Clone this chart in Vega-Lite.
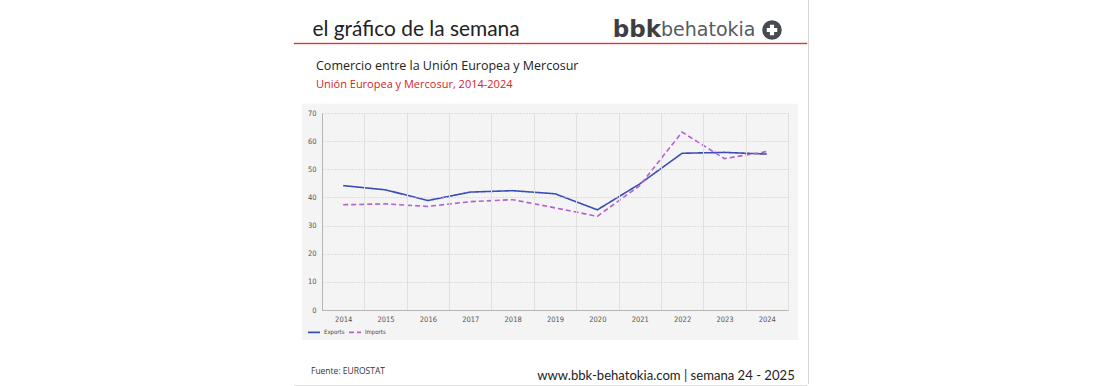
{
  "$schema": "https://vega.github.io/schema/vega-lite/v6.json",
  "background": "white",
  "padding": {"left": 293, "top": 0, "right": 0, "bottom": 0},
  "spacing": 0,
  "config": {"view": {"stroke": null}, "font": "Open Sans"},
  "hconcat": [
    {
      "spacing": 0,
      "vconcat": [
        {"width": 1, "height": 18, "data": {"values": []}, "mark": "point"},
        {
          "spacing": 0,
          "hconcat": [
            {
              "width": 244, "height": 24,
              "data": {"values": [{"texto": "el gráfico de la semana"}]},
              "mark": {"type": "text", "align": "center", "baseline": "middle", "font": "Lato", "fontSize": 20.9, "color": "#222222"},
              "encoding": {"text": {"field": "texto"}}
            },
            {"width": 23, "height": 1, "data": {"values": []}, "mark": "point"},
            {
              "width": 200, "height": 24,
              "data": {"values": [{"marca": "bbk", "resto": " behatokia"}]},
              "layer": [
                {"mark": {"type": "text", "align": "right", "baseline": "middle", "font": "DejaVu Sans", "fontWeight": "bold", "fontSize": 23, "color": "#3c4043"}, "encoding": {"text": {"field": "marca"}}},
                {"mark": {"type": "text", "align": "left", "baseline": "middle", "font": "DejaVu Sans", "fontSize": 19, "color": "#555a5f"}, "encoding": {"text": {"field": "resto"}}}
              ]
            },
            {
              "width": 22, "height": 24,
              "data": {"values": [{"logo": "más"}]},
              "layer": [
                {"mark": {"type": "point", "shape": "circle", "filled": true, "size": 380, "color": "#454b51", "opacity": 1}, "encoding": {}},
                {"mark": {"type": "point", "shape": "cross", "filled": true, "size": 110, "color": "#ffffff", "opacity": 1}, "encoding": {}}
              ]
            }
          ]
        },
        {"width": 513, "height": 1, "data": {"values": []}, "mark": "point", "view": {"fill": "#e3342f", "stroke": "#e3342f", "strokeWidth": 0.4}},
        {"width": 1, "height": 15, "data": {"values": []}, "mark": "point"},
        {
          "spacing": 0,
          "hconcat": [
            {"width": 8, "height": 1, "data": {"values": []}, "mark": "point"},
            {
              "width": 466,
              "height": 197,
              "title": {
                "text": "Comercio entre la Unión Europea y Mercosur",
                "subtitle": "Unión Europea y Mercosur, 2014-2024",
                "anchor": "start",
                "frame": "group",
                "dx": -6,
                "offset": 14,
                "font": "Open Sans",
                "fontSize": 12.5,
                "fontWeight": "normal",
                "color": "#222222",
                "subtitleFont": "Open Sans",
                "subtitleFontSize": 11,
                "subtitleColor": "#d3242b",
                "subtitlePadding": 6
              },
              "data": {"values": [
                {"year": "2014", "series": "Exports", "value": 44.2},
                {"year": "2015", "series": "Exports", "value": 42.7},
                {"year": "2016", "series": "Exports", "value": 38.9},
                {"year": "2017", "series": "Exports", "value": 41.9},
                {"year": "2018", "series": "Exports", "value": 42.4},
                {"year": "2019", "series": "Exports", "value": 41.3},
                {"year": "2020", "series": "Exports", "value": 35.6},
                {"year": "2021", "series": "Exports", "value": 44.8},
                {"year": "2022", "series": "Exports", "value": 55.7},
                {"year": "2023", "series": "Exports", "value": 56.0},
                {"year": "2024", "series": "Exports", "value": 55.4},
                {"year": "2014", "series": "Imports", "value": 37.4},
                {"year": "2015", "series": "Imports", "value": 37.7},
                {"year": "2016", "series": "Imports", "value": 36.8},
                {"year": "2017", "series": "Imports", "value": 38.5},
                {"year": "2018", "series": "Imports", "value": 39.2},
                {"year": "2019", "series": "Imports", "value": 36.3},
                {"year": "2020", "series": "Imports", "value": 33.3},
                {"year": "2021", "series": "Imports", "value": 44.2},
                {"year": "2022", "series": "Imports", "value": 63.2},
                {"year": "2023", "series": "Imports", "value": 53.8},
                {"year": "2024", "series": "Imports", "value": 56.3}
              ]},
              "layer": [
                {
                  "data": {"values": [{"zona": "fondo"}]},
                  "mark": {"type": "rect", "color": "#f4f4f4", "opacity": 1},
                  "encoding": {
                    "x": {
                      "datum": "2014", "bandPosition": -0.472, "type": "ordinal",
                      "scale": {"type": "band", "paddingInner": 0, "paddingOuter": 0},
                      "axis": {
                        "title": null, "labelAngle": 0, "ticks": false, "tickBand": "extent",
                        "grid": true, "gridColor": "#e0e0e0", "gridWidth": 1, "zindex": 1,
                        "domainColor": "#b5b5b5",
                        "labelFont": "Liberation Sans Narrow, DejaVu Sans Condensed, sans-serif",
                        "labelFontSize": 7.5, "labelColor": "#555555", "labelPadding": 5
                      }
                    },
                    "x2": {"datum": "2024", "bandPosition": 1.24},
                    "y": {
                      "datum": 73.3, "type": "quantitative",
                      "scale": {"domain": [0, 70], "nice": false, "zero": false},
                      "axis": {
                        "title": null, "values": [0, 10, 20, 30, 40, 50, 60, 70], "ticks": false,
                        "labelOverlap": false, "labelFlush": false,
                        "grid": true, "gridColor": "#c8c8c8", "gridDash": [1, 2], "zindex": 1,
                        "domainColor": "#b5b5b5",
                        "labelFont": "Liberation Sans Narrow, DejaVu Sans Condensed, sans-serif",
                        "labelFontSize": 7.5, "labelColor": "#555555", "labelPadding": 6
                      }
                    },
                    "y2": {"datum": -10.7}
                  }
                },
                {
                  "mark": {"type": "line", "strokeWidth": 1.6},
                  "encoding": {
                    "x": {
                      "field": "year", "type": "ordinal",
                      "scale": {"type": "band", "paddingInner": 0, "paddingOuter": 0},
                      "axis": {
                        "title": null, "labelAngle": 0, "ticks": false, "tickBand": "extent",
                        "grid": true, "gridColor": "#e0e0e0", "gridWidth": 1, "zindex": 1,
                        "domainColor": "#b5b5b5",
                        "labelFont": "Liberation Sans Narrow, DejaVu Sans Condensed, sans-serif",
                        "labelFontSize": 7.5, "labelColor": "#555555", "labelPadding": 5
                      }
                    },
                    "y": {
                      "field": "value", "type": "quantitative",
                      "scale": {"domain": [0, 70], "nice": false, "zero": false},
                      "axis": {
                        "title": null, "values": [0, 10, 20, 30, 40, 50, 60, 70], "ticks": false,
                        "labelOverlap": false, "labelFlush": false,
                        "grid": true, "gridColor": "#c8c8c8", "gridDash": [1, 2], "zindex": 1,
                        "domainColor": "#b5b5b5",
                        "labelFont": "Liberation Sans Narrow, DejaVu Sans Condensed, sans-serif",
                        "labelFontSize": 7.5, "labelColor": "#555555", "labelPadding": 6
                      }
                    },
                    "color": {
                      "field": "series", "type": "nominal",
                      "scale": {"domain": ["Exports", "Imports"], "range": ["#3a4db3", "#b460cf"]},
                      "legend": {
                        "title": null, "orient": "none", "direction": "horizontal",
                        "legendX": 13, "legendY": 325,
                        "symbolType": "stroke", "symbolSize": 144, "symbolStrokeWidth": 1.6,
                        "labelFont": "Liberation Sans Narrow, DejaVu Sans Condensed, sans-serif",
                        "labelFontSize": 6, "labelColor": "#444444", "labelOffset": 3, "columnPadding": 0
                      }
                    },
                    "strokeDash": {
                      "field": "series", "type": "nominal",
                      "scale": {"domain": ["Exports", "Imports"], "range": [[1, 0], [5, 3]]},
                      "legend": {
                        "title": null, "orient": "none", "direction": "horizontal",
                        "legendX": 13, "legendY": 325,
                        "symbolType": "stroke", "symbolSize": 144, "symbolStrokeWidth": 1.6,
                        "labelFont": "Liberation Sans Narrow, DejaVu Sans Condensed, sans-serif",
                        "labelFontSize": 6, "labelColor": "#444444", "labelOffset": 3, "columnPadding": 0
                      }
                    }
                  }
                }
              ]
            }
          ]
        },
        {"width": 1, "height": 25, "data": {"values": []}, "mark": "point"},
        {
          "spacing": 0,
          "hconcat": [
            {
              "width": 108, "height": 10,
              "data": {"values": [{"texto": "Fuente: EUROSTAT"}]},
              "mark": {"type": "text", "align": "center", "baseline": "middle", "font": "Open Sans", "fontSize": 8.5, "color": "#333333"},
              "encoding": {"text": {"field": "texto"}}
            },
            {"width": 129, "height": 1, "data": {"values": []}, "mark": "point"},
            {
              "width": 270, "height": 19,
              "data": {"values": [{"texto": "www.bbk-behatokia.com | semana 24 - 2025"}]},
              "mark": {"type": "text", "align": "center", "baseline": "middle", "font": "Lato", "fontSize": 13.1, "color": "#222222"},
              "encoding": {"text": {"field": "texto"}}
            }
          ]
        },
        {"width": 513, "height": 2, "data": {"values": []}, "mark": "point", "view": {"fill": "#e2e2e2"}}
      ]
    },
    {"width": 1, "height": 384, "data": {"values": []}, "mark": "point", "view": {"fill": "#d6d6d6"}}
  ]
}
